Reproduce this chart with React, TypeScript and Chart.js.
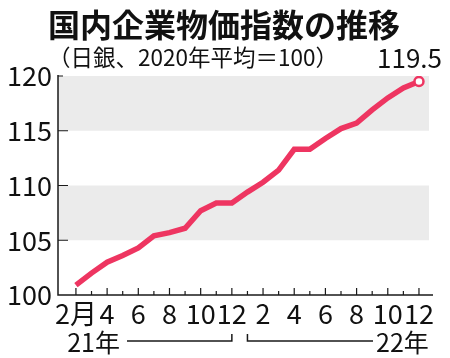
import React, { useEffect, useRef } from 'react';
import { Chart, registerables } from 'chart.js';

Chart.register(...registerables);

const FONT = '"Noto Sans CJK JP", "Noto Sans", sans-serif';
const LINE_COLOR = '#ee3561';
const BAND_COLOR = '#ebebeb';

const titleText = '国内企業物価指数の推移';
const subtitleText = '（日銀、2020年平均＝100）';

// Feb 2021 .. Dec 2022
const monthLabels = ['2月', '3', '4', '5', '6', '7', '8', '9', '10', '11', '12', '1', '2', '3', '4', '5', '6', '7', '8', '9', '10', '11', '12'];
const values = [100.9, 102.0, 103.0, 103.6, 104.3, 105.4, 105.7, 106.1, 107.7, 108.4, 108.4, 109.4, 110.3, 111.4, 113.3, 113.3, 114.3, 115.2, 115.7, 116.9, 118.0, 118.9, 119.5];
const yTickValues = [100, 105, 110, 115, 120];
const bands = [[105, 110], [115, 120]];
const yearLabels = ['21年', '22年'];
const lastYear2021Index = 10;

export default function App() {
  const ref = useRef<HTMLCanvasElement>(null);

  useEffect(() => {
    if (!ref.current) return;
    const deco = {
      id: 'deco',
      beforeDatasetsDraw(chart: any) {
        const { ctx, chartArea, scales } = chart;
        const x = scales.x, y = scales.y;
        ctx.save();
        ctx.fillStyle = BAND_COLOR;
        const bandRight = chartArea.right - 4;
        bands.forEach(([a, b]) => {
          const t = y.getPixelForValue(b);
          const bt = y.getPixelForValue(a);
          ctx.fillRect(chartArea.left, t, bandRight - chartArea.left, bt - t);
        });
        ctx.strokeStyle = '#1a1a1a';
        ctx.lineWidth = 1.5;
        ctx.beginPath();
        ctx.moveTo(chartArea.left, chartArea.top - 1);
        ctx.lineTo(chartArea.left, chartArea.bottom);
        ctx.lineTo(chartArea.right, chartArea.bottom);
        ctx.stroke();
        ctx.lineWidth = 1.2;
        ctx.beginPath();
        yTickValues.forEach((v) => {
          if (v === yTickValues[0]) return;
          const py = y.getPixelForValue(v);
          const len = v === yTickValues[yTickValues.length - 1] ? 5 : 10;
          ctx.moveTo(chartArea.left, py);
          ctx.lineTo(chartArea.left + len, py);
        });
        monthLabels.forEach((_, i) => {
          const px = x.getPixelForValue(i);
          const len = i % 2 === 0 ? 7 : 4;
          ctx.moveTo(px, chartArea.bottom);
          ctx.lineTo(px, chartArea.bottom - len);
        });
        ctx.stroke();
        ctx.restore();
      },
      afterDraw(chart: any) {
        const { ctx, scales } = chart;
        const x = scales.x;
        ctx.save();
        ctx.fillStyle = '#111';
        ctx.textBaseline = 'middle';
        ctx.textAlign = 'center';
        ctx.font = `bold 32px ${FONT}`;
        ctx.fillText(titleText, 224, 25);
        ctx.textAlign = 'left';
        ctx.font = `22.5px ${FONT}`;
        ctx.fillText(subtitleText, 48, 57);
        // last value label
        const last = values[values.length - 1];
        ctx.textAlign = 'right';
        ctx.font = `26px ${FONT}`;
        ctx.fillText(last.toFixed(1), 442, 58);
        // year brackets
        const by = 341;
        ctx.font = `25px ${FONT}`;
        ctx.textAlign = 'right';
        ctx.fillText(yearLabels[0], 120, 342);
        ctx.textAlign = 'left';
        ctx.fillText(yearLabels[1], 376, 342);
        ctx.strokeStyle = '#1a1a1a';
        ctx.lineWidth = 1.5;
        const xEnd21 = x.getPixelForValue(lastYear2021Index);
        const xStart22 = x.getPixelForValue(lastYear2021Index + 1);
        ctx.beginPath();
        ctx.moveTo(127, by);
        ctx.lineTo(xEnd21, by);
        ctx.lineTo(xEnd21, by - 7);
        ctx.moveTo(xStart22, by - 7);
        ctx.lineTo(xStart22, by);
        ctx.lineTo(373, by);
        ctx.stroke();
        ctx.restore();
      },
    };

    const n = values.length;
    const chart = new Chart(ref.current, {
      type: 'line',
      data: {
        datasets: [
          {
            data: values.map((v, i) => ({ x: i, y: v })),
            borderColor: LINE_COLOR,
            borderWidth: 5.5,
            borderJoinStyle: 'miter',
            borderCapStyle: 'butt',
            pointRadius: values.map((_, i) => (i === n - 1 ? 4.5 : 0)),
            pointBackgroundColor: '#ffffff',
            pointBorderColor: LINE_COLOR,
            pointBorderWidth: 2.5,
            tension: 0,
          },
        ],
      },
      options: {
        animation: false,
        responsive: false,
        devicePixelRatio: 1,
        layout: { padding: { top: 76, right: 17, left: 0, bottom: 0 } },
        plugins: { legend: { display: false }, title: { display: false }, tooltip: { enabled: false } },
        scales: {
          x: {
            type: 'linear',
            min: -1.15,
            max: 22.9,
            grid: { display: false, drawTicks: false },
            border: { display: false },
            afterFit: (s: any) => { s.height = 63; },
            ticks: {
              stepSize: 1,
              includeBounds: false,
              autoSkip: false,
              maxRotation: 0,
              padding: 3,
              color: '#111',
              font: { family: FONT, size: 27 },
              callback: (v: any) => {
                const i = Number(v);
                if (!Number.isInteger(i) || i < 0 || i % 2 !== 0) return '';
                return monthLabels[i];
              },
            },
          },
          y: {
            min: 100,
            max: 120,
            grid: { display: false, drawTicks: false },
            border: { display: false },
            afterFit: (s: any) => { s.width = 58; },
            ticks: {
              stepSize: 5,
              padding: 6,
              color: '#111',
              font: { family: FONT, size: 27 },
            },
          },
        },
      },
      plugins: [deco],
    });
    return () => chart.destroy();
  }, []);

  return (
    <div style={{ position: 'fixed', left: 0, top: 0, width: 450, height: 358, background: '#fff' }}>
      <canvas ref={ref} width={450} height={358} />
    </div>
  );
}
